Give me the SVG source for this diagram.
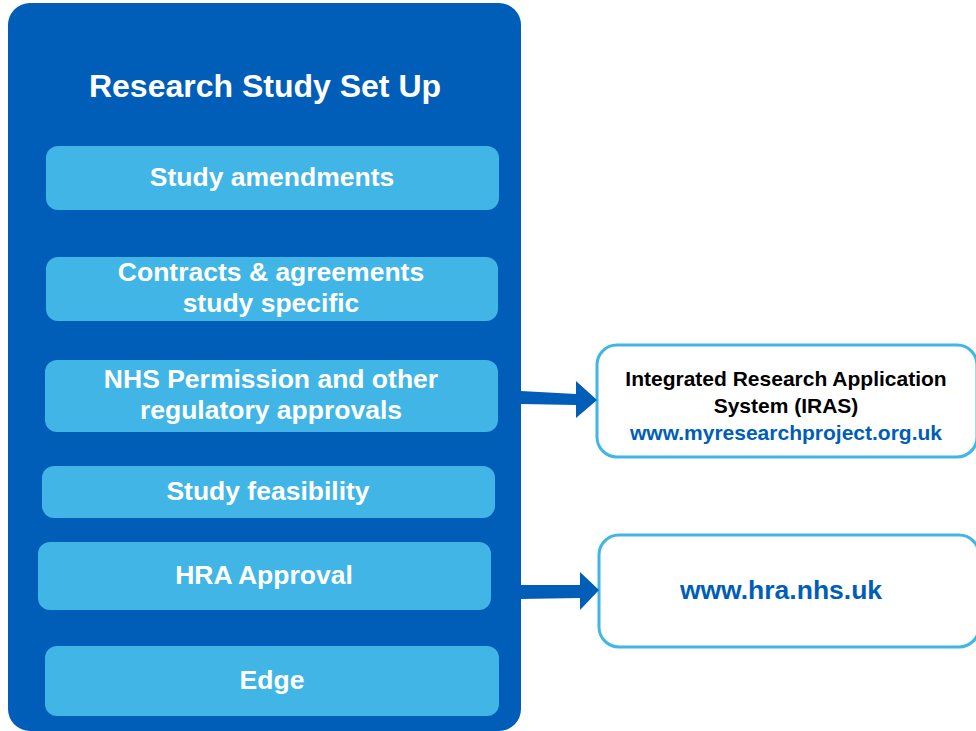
<svg xmlns="http://www.w3.org/2000/svg" width="976" height="731" viewBox="0 0 976 731">
<style>
.t{font-family:"Liberation Sans",Arial,sans-serif;font-weight:bold;text-anchor:middle}
.w{fill:#fff;font-size:26.5px}
.lb{fill:#41B6E6}
.rb{fill:#fff;stroke:#41B6E6;stroke-width:3}
.ar{fill:#005EB8}
</style>
<g id="container">
<rect x="8" y="3" width="513" height="728" rx="22" fill="#005EB8"/>
<text class="t" x="265" y="97" fill="#fff" font-size="32">Research Study Set Up</text>
</g>
<g id="amend"><rect class="lb" x="46" y="146" width="453" height="64" rx="12"/><text class="t w" x="272" y="186">Study amendments</text></g>
<g id="contracts"><rect class="lb" x="46" y="257" width="452" height="64" rx="12"/><text class="t w" x="271" y="281">Contracts &amp; agreements</text><text class="t w" x="271" y="312">study specific</text></g>
<g id="nhs"><rect class="lb" x="45" y="360" width="453" height="72" rx="12"/><text class="t w" x="271" y="388">NHS Permission and other</text><text class="t w" x="271" y="419">regulatory approvals</text></g>
<g id="feas"><rect class="lb" x="42" y="466" width="453" height="52" rx="12"/><text class="t w" x="268" y="500">Study feasibility</text></g>
<g id="hra"><rect class="lb" x="38" y="542" width="453" height="68" rx="12"/><text class="t w" x="264" y="584">HRA Approval</text></g>
<g id="edge"><rect class="lb" x="45" y="646" width="454" height="70" rx="12"/><text class="t w" x="272" y="689">Edge</text></g>
<g id="iras"><rect class="rb" x="597" y="345" width="380" height="112" rx="20"/>
<text class="t" x="786" y="386" font-size="21" fill="#000">Integrated Research Application</text>
<text class="t" x="786" y="413" font-size="21" fill="#000">System (IRAS)</text>
<text class="t" x="786" y="440" font-size="21" fill="#005EB8">www.myresearchproject.org.uk</text></g>
<g id="hraweb"><rect class="rb" x="599" y="535" width="380" height="112" rx="20"/>
<text class="t" x="781" y="599" font-size="26.5" fill="#005EB8">www.hra.nhs.uk</text></g>
<g id="connectors">
<polygon class="ar" points="521,391 576,394 576,381 597,400 576,418 576,405 521,404"/>
<polygon class="ar" points="521,585 580,585 580,572 599,590 580,610 580,598 521,599"/>
</g>
</svg>
